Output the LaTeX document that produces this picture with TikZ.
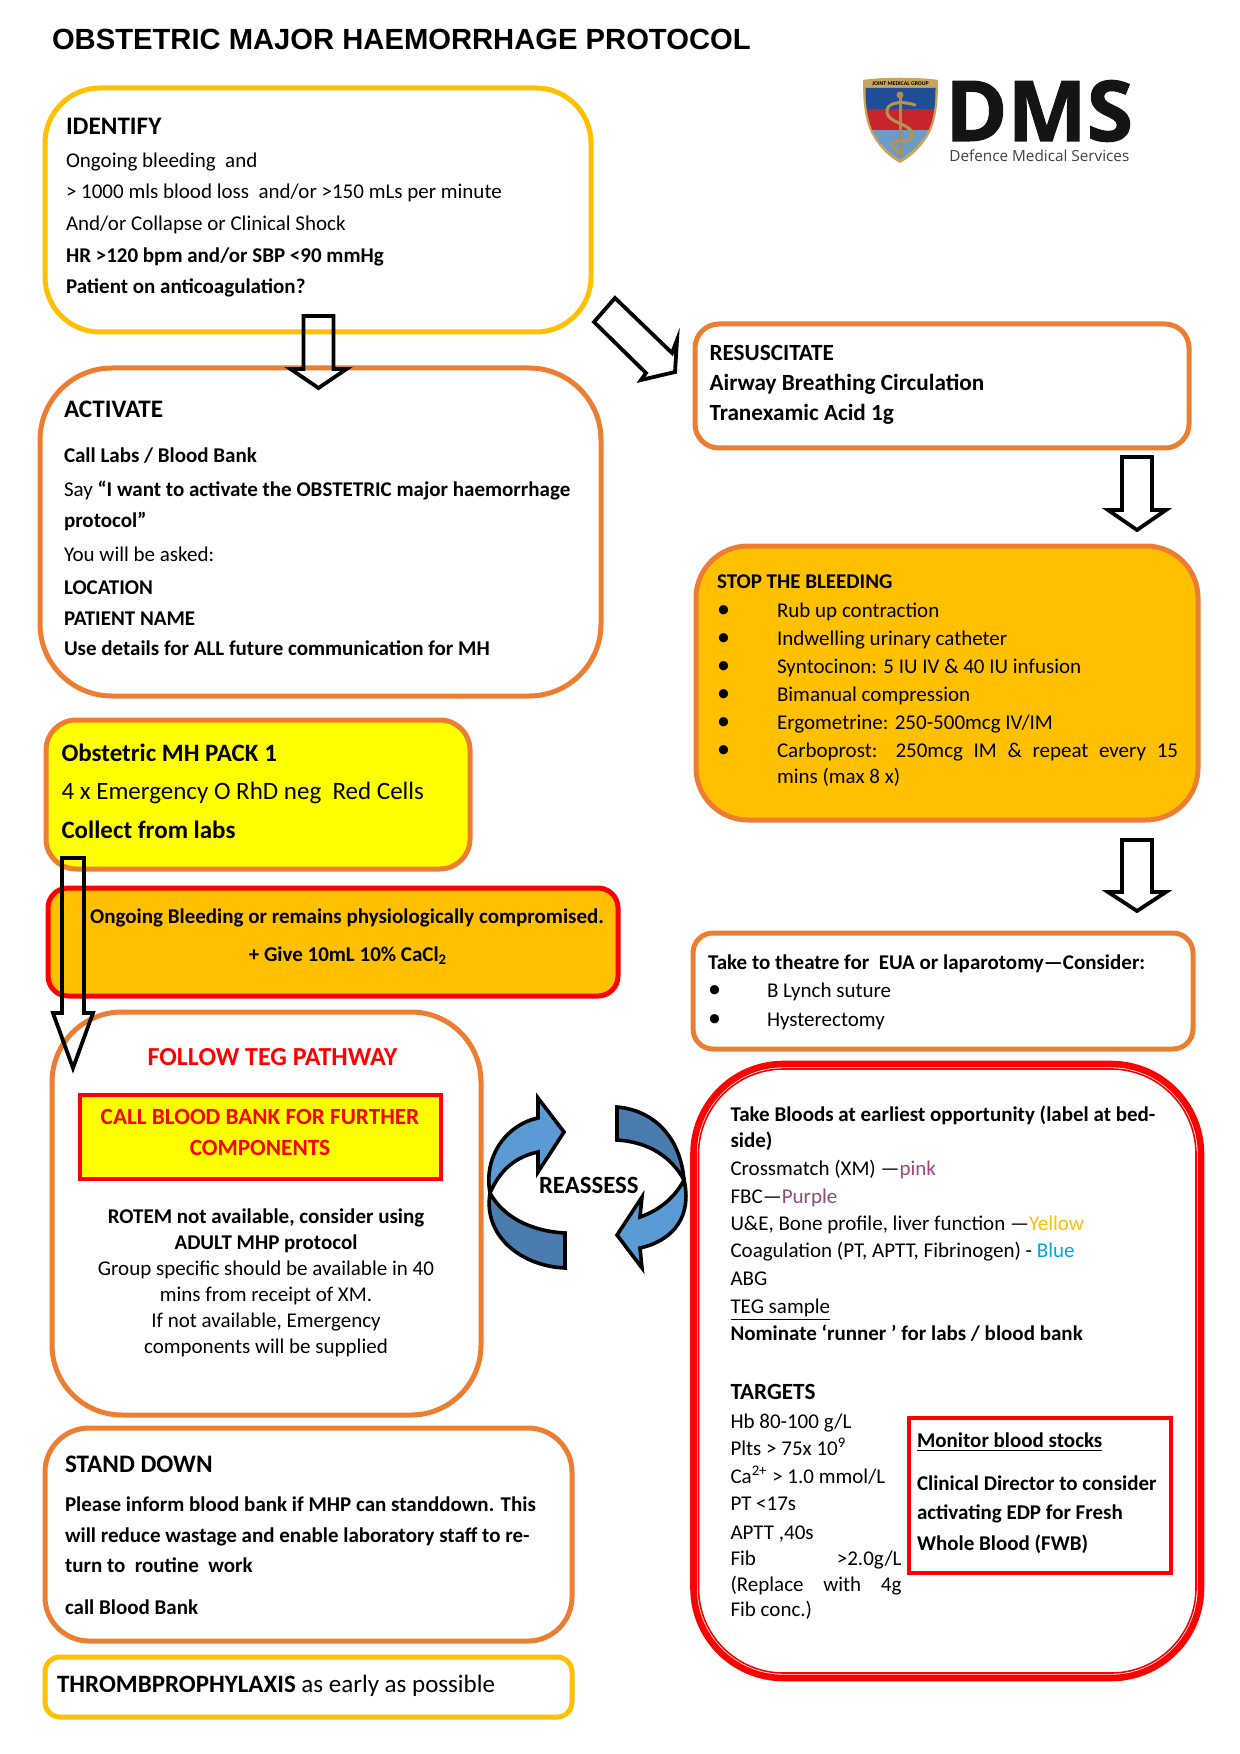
\documentclass[tikz,border=0pt]{standalone}
\usepackage{fontspec}
\setmainfont{Carlito}
\newfontfamily\titlefont{Liberation Sans}
\newfontfamily\logofont{Open Sans}
\newfontfamily\logoheavy[FakeBold=1.2]{Open Sans Bold}
\usetikzlibrary{calc}
\definecolor{amber}{HTML}{FFC000}
\definecolor{brorange}{HTML}{ED7D31}
\definecolor{brred}{HTML}{FF0000}
\definecolor{bryellow}{HTML}{FFFF00}
\definecolor{arrowlight}{HTML}{5B9BD5}
\definecolor{arrowdark}{HTML}{4A7DAE}
\definecolor{tubepink}{HTML}{A5447A}
\definecolor{tubepurple}{HTML}{8E4A78}
\definecolor{tubeblue}{HTML}{00A8DC}
\definecolor{shgold}{HTML}{C9A45C}
\definecolor{shblue}{HTML}{1F4E96}
\definecolor{shred}{HTML}{C8242C}
\definecolor{shsky}{HTML}{6C9BC6}
\newcommand\fsz[1]{\fontsize{#1}{#1}\selectfont}
\tikzset{
  x=0.5pt,y=-0.5pt,
  panel/.style={draw,inner sep=0pt,outer sep=0pt,line width=2.5pt},
  txt/.style={anchor=base west,inner sep=0pt,outer sep=0pt,font=\fsz{10.5}},
  ctr/.style={anchor=base,inner sep=0pt,outer sep=0pt,font=\fsz{10.5}},
  blockstroke/.style={draw=black,line width=1.9pt,miter limit=10},
  curvestroke/.style={draw=black,line width=1.8pt,line join=miter},
  headline/.style={font=\bfseries\fsz{12.6}},
}
% name, x1,y1,x2,y2, radius, style
\newcommand\rbox[7]{\node[panel,#7,rounded corners=#6*0.5pt,minimum width=(#4-#2)*0.5pt,minimum height=(#5-#3)*0.5pt] (#1) at ({(#2+#4)/2},{(#3+#5)/2}) {};}
\newcommand\tl[5][]{\node[txt,#1] (#2) at (#3,#4) {#5};}
\newcommand\cl[5][]{\node[ctr,#1] (#2) at (#3,#4) {#5};}
\newcommand\just[2]{\makebox[\dimexpr #1pt/2\relax][s]{#2}}
% vertical block arrow: name, tail y, head-base y, tip y, x, half shaft, half head, style
\newcommand\varrow[8]{%
  \coordinate (#1tail) at (#5,#2);
  \coordinate (#1tip) at (#5,#4);
  \draw[blockstroke,#8] ($(#1tail)+(-#6,0)$) -- ($(#1tail)+(#6,0)$) -- (#5+#6,#3) -- (#5+#7,#3) -- (#1tip) -- (#5-#7,#3) -- (#5-#6,#3) -- cycle;}
\begin{document}
\begin{tikzpicture}
\useasboundingbox (0,0) rectangle (1240,1754);
\fill[white] (0,0) rectangle (1240,1754);

\node[txt,font=\titlefont\bfseries\fsz{14.6}] (title) at (52,50) {OBSTETRIC MAJOR HAEMORRHAGE PROTOCOL};

% logo
\path[fill=shgold] (863,80) .. controls (880,77) and (920,77) .. (938,80) .. controls (938,100) and (937,112) .. (933,125) .. controls (928,140) and (915,155) .. (900,163) .. controls (885,155) and (873,140) .. (868,125) .. controls (864,112) and (863,100) .. (863,80) -- cycle;
\begin{scope}
\clip (865.5,88) -- (935.5,88) .. controls (935.5,102) and (934.5,112) .. (931,124) .. controls (926,138) and (914,151) .. (900,159.5) .. controls (886,151) and (874,138) .. (870,124) .. controls (866.5,112) and (865.5,102) .. (865.5,88) -- cycle;
\fill[shblue] (860,86) rectangle (940,109);
\fill[shred] (860,109) rectangle (940,130);
\fill[shsky] (860,130) rectangle (940,165);
\end{scope}
\node[anchor=center,inner sep=0pt,font=\bfseries\fsz{2.9},text=black] (crest) at (900.5,83.5) {JOINT MEDICAL GROUP};
\draw[shgold!85!black,line width=1.5pt] (900,96) -- (900,157);
\fill[shgold!85!black] (900,95) circle (3.5);
\draw[shgold!90!black,line width=1.5pt,line cap=round] (915,105) .. controls (900,100) and (885,103) .. (887,113) .. controls (889,124) and (915,124) .. (912,136) .. controls (910,146) and (890,136) .. (893,146) .. controls (895,152) and (900,152) .. (902,153);
\node[anchor=base west,inner sep=0pt,font=\logoheavy\fsz{42},text=black!92] (dms) at (945,141) {DMS};
\node[anchor=base west,inner sep=0pt,font=\logofont\fsz{7.65},text=black!75] (dmssub) at (949,161.5) {Defence Medical Services};

% boxes
\rbox{identify}{45}{88}{591}{332}{55}{draw=amber}
\rbox{activate}{40}{368}{601}{696}{72}{draw=brorange}
\rbox{resus}{695}{324}{1189}{448}{24}{draw=brorange}
\rbox{stop}{696}{546}{1198}{820}{52}{draw=brorange,fill=amber}
\rbox{pack}{46}{720}{470}{869}{30}{draw=brorange,fill=bryellow}
\rbox{ongoing}{48}{888}{618}{996}{20}{draw=brred,fill=amber}
\rbox{teg}{52}{1012}{481}{1415}{70}{draw=brorange}
\rbox{callbb}{80}{1095}{441}{1179}{0}{draw=brred,line width=2pt,fill=bryellow}
\rbox{standdown}{45}{1428}{572}{1641}{44}{draw=brorange}
\rbox{thromb}{45}{1657}{572}{1717}{15}{draw=amber}
\rbox{theatre}{693}{933}{1193}{1049}{20}{draw=brorange}
\rbox{bloods}{693.5}{1064}{1201}{1678}{90}{draw=brred,line width=3.3pt}
\rbox{bloodsin}{698.5}{1069}{1196}{1673}{85}{draw=brred,line width=0.8pt}
\rbox{monitor}{908.5}{1418}{1171}{1573}{0}{draw=brred,line width=2pt,fill=white}

% block arrows
\varrow{aone}{316}{369}{388}{318.5}{15}{28}{}
\varrow{athree}{457}{510}{530}{1137}{15}{29}{}
\varrow{afour}{840}{892}{911}{1137}{15}{29}{}
\varrow{afive}{858}{1013}{1068}{73}{11}{20}{}
\coordinate (atwotip) at (675,372);
\draw[blockstroke] (615,298) -- (672,353) -- (677,340) -- (atwotip) -- (641,380) -- (646,373) -- (594,322) -- cycle;

% reassess arrows
\draw[curvestroke,fill=arrowdark] (490,1193) .. controls (502,1215) and (528,1231) .. (565,1233) -- (565,1268) .. controls (520,1266) and (483,1235) .. (490,1193) -- cycle;
\draw[curvestroke,fill=arrowlight] (490,1193) .. controls (500,1170) and (515,1157) .. (538,1152) -- (538,1172) -- (564,1132) -- (538,1098) -- (538,1118) .. controls (508,1124) and (483,1155) .. (490,1193) -- cycle;
\draw[curvestroke,fill=arrowdark] (617,1107) .. controls (652,1110) and (680,1135) .. (684,1180) .. controls (672,1158) and (650,1142) .. (617,1140) -- cycle;
\draw[curvestroke,fill=arrowlight] (617,1235) -- (642,1197) -- (640,1217) .. controls (660,1210) and (675,1197) .. (684,1180) .. controls (692,1215) and (675,1240) .. (640,1248) -- (642,1268) -- cycle;
\node[txt,font=\bfseries\fsz{12.4}] (reassess) at (539,1193) {REASSESS};

% identify
\tl[headline]{t1}{66}{135}{IDENTIFY}
\tl{t2}{66}{168}{Ongoing bleeding~~and}
\tl{t3}{66}{199}{> 1000 mls blood loss~~and/or >150 mLs per minute}
\tl{t4}{66}{231}{And/or Collapse or Clinical Shock}
\tl{t5}{66}{263}{\textbf{HR >120 bpm and/or SBP <90 mmHg}}
\tl{t6}{66}{294}{\textbf{Patient on anticoagulation?}}

% activate
\tl[headline]{a1}{64}{418}{ACTIVATE}
\tl{a2}{64}{463}{\textbf{Call Labs / Blood Bank}}
\tl{a3}{64}{496}{Say \textbf{“I want to activate the OBSTETRIC major haemorrhage}}
\tl{a4}{64}{527}{\textbf{protocol”}}
\tl{a5}{64}{561}{You will be asked:}
\tl{a6}{64}{594}{\textbf{LOCATION}}
\tl{a7}{64}{625}{\textbf{PATIENT NAME}}
\tl{a8}{64}{655}{\textbf{Use details for ALL future communication for MH}}

% resuscitate
\tl[font=\bfseries\fsz{11.6}]{r1}{709.5}{361}{RESUSCITATE}
\tl[font=\bfseries\fsz{11.6}]{r2}{709.5}{391}{Airway Breathing Circulation}
\tl[font=\bfseries\fsz{11.6}]{r3}{709.5}{421}{Tranexamic Acid 1g}

% stop the bleeding
\tl{s0}{717}{588}{\textbf{STOP THE BLEEDING}}
\foreach \nm/\yy/\tx in {1/617/Rub up contraction,2/645/Indwelling urinary catheter,3/673/{Syntocinon: 5 IU IV \& 40 IU infusion},4/701/Bimanual compression,5/729/{Ergometrine: 250-500mcg IV/IM}}{
  \tl{sb\nm}{717}{\yy}{\fsz{13}\textbullet}
  \tl{st\nm}{777}{\yy}{\tx}
}
\tl{sb6}{717}{757}{\fsz{13}\textbullet}
\tl{st6}{777}{757}{\just{401}{Carboprost: 250mcg IM \& repeat every 15}}
\tl{st7}{777}{783}{mins (max 8 x)}

% pack
\tl[font=\bfseries\fsz{12.5}]{p1}{61.5}{761}{Obstetric MH PACK 1}
\tl[font=\fsz{12.5}]{p2}{61.5}{799}{4 x Emergency O RhD neg~~Red Cells}
\tl[font=\bfseries\fsz{12.5}]{p3}{61.5}{838}{Collect from labs}

% ongoing
\cl[font=\bfseries\fsz{10.5}]{o1}{347}{923}{Ongoing Bleeding or remains physiologically compromised.}
\cl[font=\bfseries\fsz{10.5}]{o2}{348}{961}{+ Give 10mL 10\% CaCl\textsubscript{2}}

% teg
\cl[font=\bfseries\fsz{13},text=brred]{g1}{272.5}{1065}{FOLLOW TEG PATHWAY}
\cl[font=\bfseries\fsz{11.6},text=brred]{g2}{260}{1124}{CALL BLOOD BANK FOR FURTHER}
\cl[font=\bfseries\fsz{11.6},text=brred]{g3}{260}{1155}{COMPONENTS}
\cl[font=\bfseries\fsz{10.5}]{g4}{266}{1223}{ROTEM not available, consider using}
\cl[font=\bfseries\fsz{10.5}]{g5}{266}{1249}{ADULT MHP protocol}
\cl{g6}{266}{1275}{Group specific should be available in 40}
\cl{g7}{266}{1301}{mins from receipt of XM.}
\cl{g8}{266}{1327}{If not available, Emergency}
\cl{g9}{266}{1353}{components will be supplied}

% stand down
\tl[headline]{d1}{65}{1472}{STAND DOWN}
\tl{d2}{65}{1511}{\textbf{Please inform blood bank if MHP can standdown. This}}
\tl{d3}{65}{1542}{\textbf{will reduce wastage and enable laboratory staff to re-}}
\tl{d4}{65}{1572}{\textbf{turn to~~routine~~work}}
\tl{d5}{65}{1614}{\textbf{call Blood Bank}}

% thromboprophylaxis
\tl[font=\fsz{12.5}]{h1}{57}{1692}{\textbf{THROMBPROPHYLAXIS} as early as possible}

% theatre
\tl{th1}{708}{969}{\textbf{Take to theatre for~~EUA or laparotomy—Consider:}}
\tl{thb1}{708}{997.5}{\fsz{13}\textbullet}
\tl{th2}{767}{997.5}{B Lynch suture}
\tl{thb2}{708}{1026}{\fsz{13}\textbullet}
\tl{th3}{767}{1026}{Hysterectomy}

% bloods
\tl{b1}{730.5}{1121}{\textbf{Take Bloods at earliest opportunity (label at bed-}}
\tl{b2}{730.5}{1147}{\textbf{side)}}
\tl{b3}{730.5}{1175}{Crossmatch (XM) —\textcolor{tubepink}{pink}}
\tl{b4}{730.5}{1203}{FBC—\textcolor{tubepurple}{Purple}}
\tl{b5}{730.5}{1230}{U\&E, Bone profile, liver function —\textcolor{amber}{Yellow}}
\tl{b6}{730.5}{1257}{Coagulation (PT, APTT, Fibrinogen) - \textcolor{tubeblue}{Blue}}
\tl{b7}{730.5}{1285}{ABG}
\tl{b8}{730.5}{1313}{\underline{TEG sample}}
\tl{b9}{730.5}{1340.5}{\textbf{Nominate ‘runner ’ for labs / blood bank}}
\tl[font=\bfseries\fsz{11.6}]{b10}{730.5}{1399}{TARGETS}
\tl{c1}{730.5}{1428}{Hb 80-100 g/L}
\tl{c2}{730.5}{1455}{Plts > 75x 10\textsuperscript{9}}
\tl{c3}{730.5}{1483}{Ca\textsuperscript{2+} > 1.0 mmol/L}
\tl{c4}{730.5}{1510}{PT <17s}
\tl{c5}{730.5}{1539}{APTT ,40s}
\tl{c6}{730.5}{1565}{\just{171}{Fib >2.0g/L}}
\tl{c7}{730.5}{1591}{\just{171}{(Replace with 4g}}
\tl{c8}{730.5}{1616}{Fib conc.)}

% monitor
\tl{m1}{917}{1447}{\textbf{\underline{Monitor blood stocks}}}
\tl{m2}{917}{1490}{\textbf{Clinical Director to consider}}
\tl{m3}{917}{1519.5}{\textbf{activating EDP for Fresh}}
\tl{m4}{917}{1550}{\textbf{Whole Blood (FWB)}}
\end{tikzpicture}
\end{document}
